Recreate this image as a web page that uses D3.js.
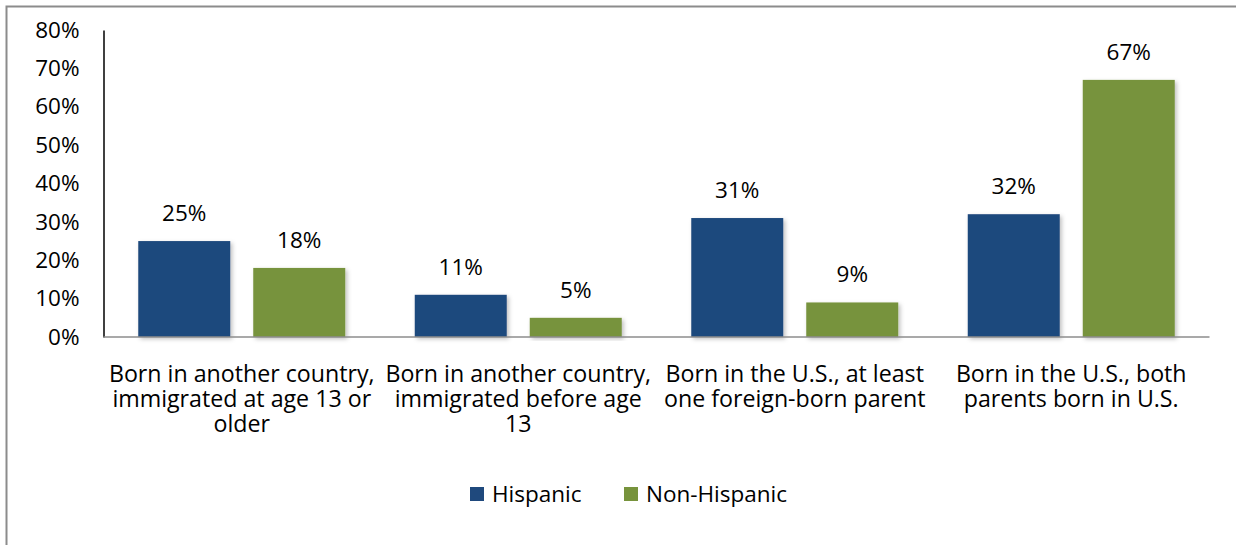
<!DOCTYPE html>
<html>
<head>
<meta charset="utf-8">
<script src="https://cdn.jsdelivr.net/npm/d3@7"></script>
<style>
  html, body { margin: 0; padding: 0; background: #fff; }
  svg { display: block; font-family: "Open Sans", "Noto Sans", sans-serif; }
</style>
</head>
<body>
<svg id="chart" width="1236" height="545"></svg>
<script>
// Nativity groups, shown as wrapped category labels
const categories = [
  ["Born in another country,", "immigrated at age 13 or", "older"],
  ["Born in another country,", "immigrated before age", "13"],
  ["Born in the U.S., at least", "one foreign-born parent"],
  ["Born in the U.S., both", "parents born in U.S."]
];
const seriesNames = ["Hispanic", "Non-Hispanic"];
const hispanic = [25, 11, 31, 32];
const nonHispanic = [18, 5, 9, 67];
const yTicks = [0, 10, 20, 30, 40, 50, 60, 70, 80];
const colors = ["#1f497d", "#77933c"];

const svg = d3.select("#chart");
const fontSize = 22.5;
const catFontSize = 23.2;

// outer chart frame
svg.append("rect")
  .attr("x", 6.5).attr("y", 6.5)
  .attr("width", 1240).attr("height", 560)
  .attr("fill", "none").attr("stroke", "#8c8c8c").attr("stroke-width", 2);

const plot = { left: 103.5, right: 1209.5, top: 30, bottom: 337 };

const x0 = d3.scaleBand()
  .domain(d3.range(categories.length))
  .range([plot.left, plot.right])
  .paddingInner(0).paddingOuter(0);

const groupInset = 34.75;
const x1 = d3.scaleBand()
  .domain(seriesNames)
  .range([groupInset, x0.bandwidth() - groupInset])
  .paddingInner(0.2);

const y = d3.scaleLinear().domain([0, 80]).range([plot.bottom, plot.top]);

// drop shadow for bars
const defs = svg.append("defs");
const f = defs.append("filter").attr("id", "shadow")
  .attr("x", "-10%").attr("y", "-10%").attr("width", "130%").attr("height", "130%");
f.append("feDropShadow").attr("dx", 2).attr("dy", 2).attr("stdDeviation", 2)
  .attr("flood-color", "#000").attr("flood-opacity", 0.25);

// y axis
const yAxis = d3.axisLeft(y).tickValues(yTicks).tickFormat(d => d + "%").tickSize(0).tickPadding(24);
const yg = svg.append("g").attr("transform", `translate(${plot.left},0)`).call(yAxis);
yg.select(".domain").attr("stroke", "#000").attr("stroke-width", 1.5);
yg.selectAll("text").attr("font-size", fontSize).attr("fill", "#000")
  .attr("font-family", "'Open Sans', sans-serif");

// bars
const data = categories.map((c, i) => ({ i, values: [hispanic[i], nonHispanic[i]] }));
const groups = svg.append("g").selectAll("g").data(data).join("g")
  .attr("transform", d => `translate(${x0(d.i)},0)`);

groups.selectAll("rect").data(d => d.values.map((v, k) => ({ k, v }))).join("rect")
  .attr("x", d => x1(seriesNames[d.k]))
  .attr("width", x1.bandwidth())
  .attr("y", d => y(d.v))
  .attr("height", d => y(0) - y(d.v))
  .attr("fill", d => colors[d.k])
  .attr("filter", "url(#shadow)");

groups.selectAll("text.val").data(d => d.values.map((v, k) => ({ k, v }))).join("text")
  .attr("class", "val")
  .attr("x", d => x1(seriesNames[d.k]) + x1.bandwidth() / 2)
  .attr("y", d => y(d.v) - 20)
  .attr("text-anchor", "middle")
  .attr("font-size", fontSize)
  .attr("fill", "#000")
  .text(d => d.v + "%");

// x axis baseline
svg.append("line")
  .attr("x1", plot.left).attr("x2", plot.right)
  .attr("y1", y(0)).attr("y2", y(0))
  .attr("stroke", "#8c8c8c").attr("stroke-width", 1.5);

// category labels, one text per wrapped line
const catG = svg.append("g");
categories.forEach((lines, i) => {
  const cx = x0(i) + x0.bandwidth() / 2;
  lines.forEach((ln, j) => {
    catG.append("text")
      .attr("x", cx)
      .attr("y", 381.5 + j * 25)
      .attr("text-anchor", "middle")
      .attr("font-size", catFontSize)
      .attr("fill", "#000")
      .text(ln);
  });
});

// legend
const legend = svg.append("g");
const legendItems = [
  { name: seriesNames[0], color: colors[0], x: 470 },
  { name: seriesNames[1], color: colors[1], x: 624 }
];
legendItems.forEach(it => {
  legend.append("rect").attr("x", it.x).attr("y", 487).attr("width", 14).attr("height", 14).attr("fill", it.color);
  legend.append("text").attr("x", it.x + 22).attr("y", 502)
    .attr("font-size", fontSize).attr("fill", "#000").text(it.name);
});
</script>
</body>
</html>
